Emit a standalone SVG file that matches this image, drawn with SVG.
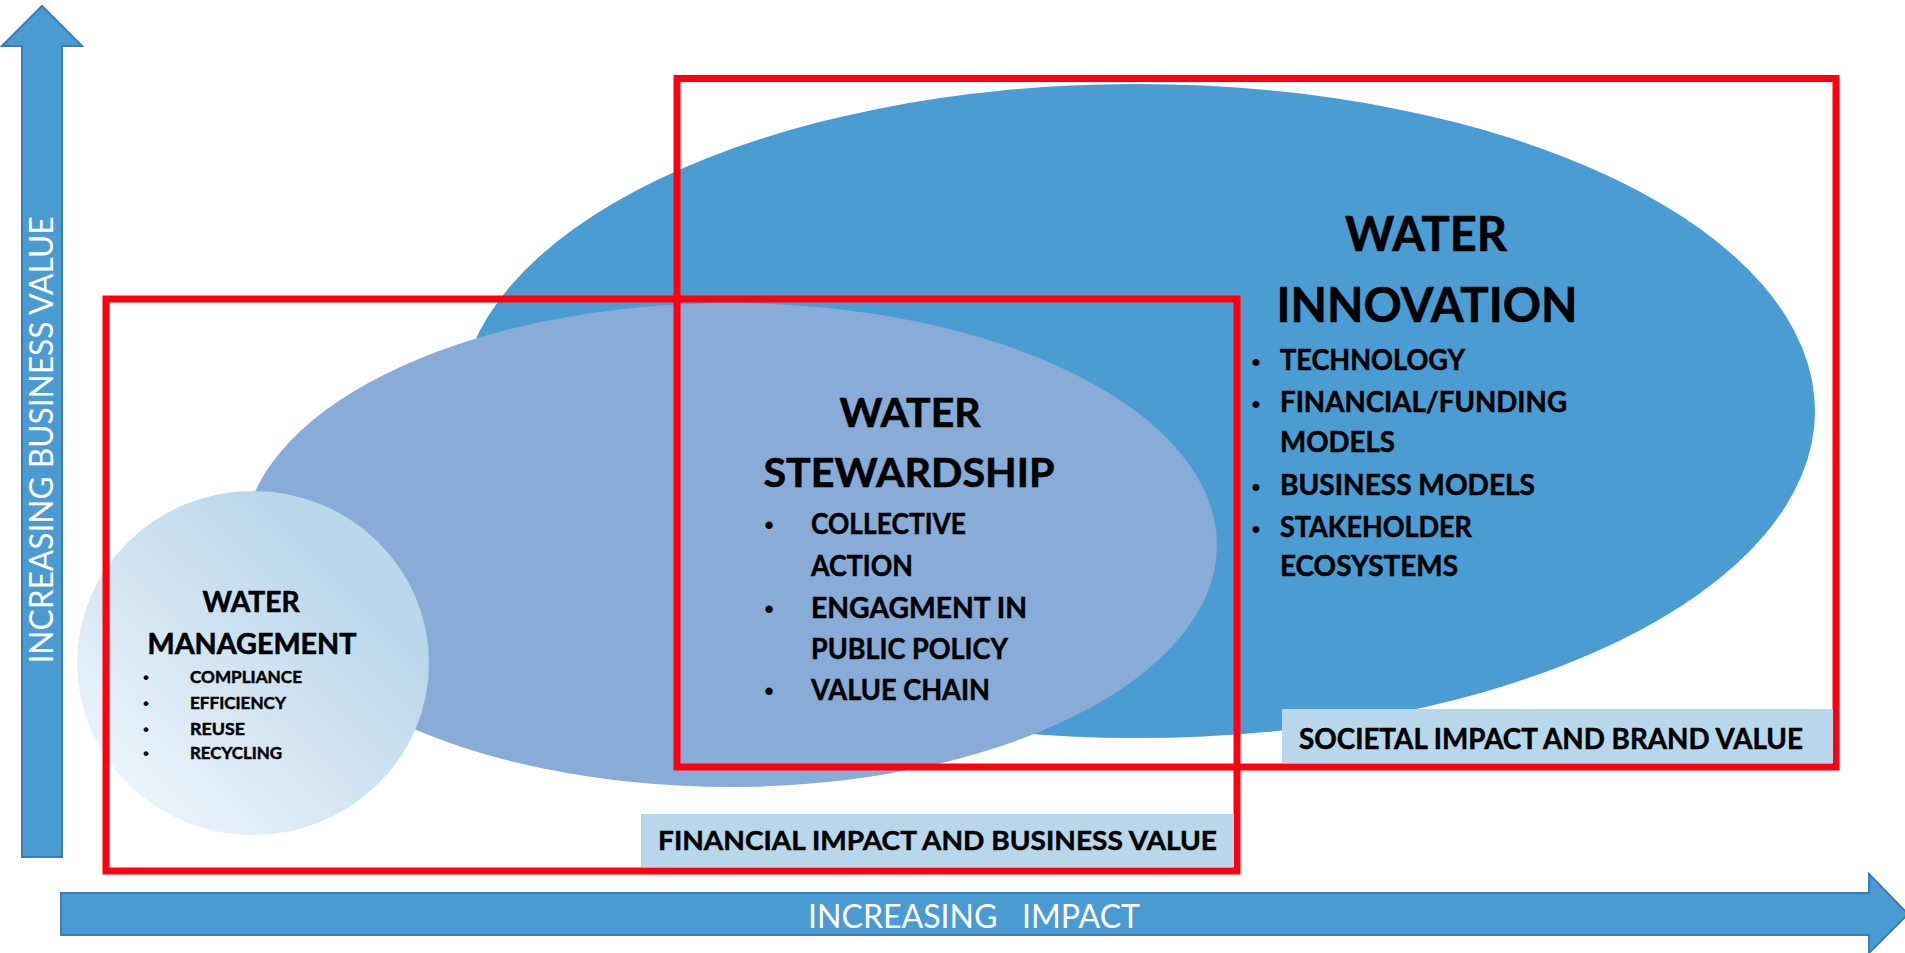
<svg xmlns="http://www.w3.org/2000/svg" width="1905" height="953" viewBox="0 0 1905 953">
  <style>
    .axis { fill: #4A9BD1; stroke: #3B7CB1; stroke-width: 2; }
    .axis-label { font-family: Lato, "Liberation Sans", sans-serif; font-weight: 400; fill: #FFFFFF; }
    .frame { fill: none; stroke: #FF0010; stroke-width: 7; }
    .tag { fill: #B8D7EB; }
    .head { font-family: Lato, "Liberation Sans", sans-serif; font-weight: 700; fill: #000000; stroke: #000000; stroke-width: 0.6; text-anchor: middle; }
    .item { font-family: Lato, "Liberation Sans", sans-serif; font-weight: 700; fill: #000000; stroke: #000000; stroke-width: 0.5; }
    .dot { font-family: "Liberation Sans", sans-serif; font-weight: 700; fill: #000000; text-anchor: middle; }
  </style>
  <defs>
    <linearGradient id="mgmtFill" x1="0.1" y1="0.9" x2="0.75" y2="0.25">
      <stop offset="0" stop-color="#EEF5FB"/>
      <stop offset="1" stop-color="#BBD7EC"/>
    </linearGradient>
  </defs>

  <rect width="1905" height="953" fill="#FFFFFF"/>

  <!-- axes -->
  <g id="axis-business-value">
    <polygon class="axis" points="22,857 22,46 2,46 42,6 82,46 62,46 62,857"/>
    <text class="axis-label" font-size="33" text-anchor="middle" transform="translate(53,440) rotate(-90)" textLength="447" lengthAdjust="spacingAndGlyphs">INCREASING BUSINESS VALUE</text>
  </g>
  <g id="axis-impact">
    <polygon class="axis" points="61,893 1869,893 1869,874 1908,914 1869,953 1869,935 61,935"/>
    <text class="axis-label" font-size="33" x="808" y="928" xml:space="preserve" textLength="332" lengthAdjust="spacingAndGlyphs">INCREASING   IMPACT</text>
  </g>

  <!-- water innovation -->
  <g id="water-innovation">
    <ellipse cx="1137" cy="411" rx="678" ry="327" fill="#4B9CD2"/>
  </g>

  <!-- water stewardship -->
  <g id="water-stewardship">
    <ellipse cx="730" cy="545" rx="487" ry="242" fill="#88ABD8"/>
  </g>

  <!-- water management -->
  <g id="water-management">
    <ellipse cx="253" cy="663" rx="176" ry="172" fill="url(#mgmtFill)"/>
    <text class="head" font-size="28" x="251" y="612" textLength="97" lengthAdjust="spacingAndGlyphs">WATER</text>
    <text class="head" font-size="28" x="252" y="654" textLength="209" lengthAdjust="spacingAndGlyphs">MANAGEMENT</text>
    <text class="dot" font-size="17" x="146" y="683">•</text>
    <text class="dot" font-size="17" x="146" y="709">•</text>
    <text class="dot" font-size="17" x="146" y="735">•</text>
    <text class="dot" font-size="17" x="146" y="759">•</text>
    <text class="item" font-size="17.5" x="190" y="683" textLength="112" lengthAdjust="spacingAndGlyphs">COMPLIANCE</text>
    <text class="item" font-size="17.5" x="190" y="709" textLength="96" lengthAdjust="spacingAndGlyphs">EFFICIENCY</text>
    <text class="item" font-size="17.5" x="190" y="735" textLength="55" lengthAdjust="spacingAndGlyphs">REUSE</text>
    <text class="item" font-size="17.5" x="190" y="759" textLength="92" lengthAdjust="spacingAndGlyphs">RECYCLING</text>
  </g>

  <!-- scope frames -->
  <g id="frame-societal">
    <rect class="frame" x="677" y="78.5" width="1159" height="688.5"/>
  </g>
  <g id="frame-financial">
    <rect class="frame" x="106" y="299" width="1131" height="572"/>
  </g>

  <!-- stewardship text -->
  <g id="water-stewardship-text">
    <text class="head" font-size="40" x="910" y="427" textLength="141" lengthAdjust="spacingAndGlyphs">WATER</text>
    <text class="head" font-size="40" x="909" y="487" textLength="291" lengthAdjust="spacingAndGlyphs">STEWARDSHIP</text>
    <text class="dot" font-size="26" x="769" y="534">•</text>
    <text class="dot" font-size="26" x="769" y="618">•</text>
    <text class="dot" font-size="26" x="769" y="700">•</text>
    <text class="item" font-size="29" x="811" y="534" textLength="155" lengthAdjust="spacingAndGlyphs">COLLECTIVE</text>
    <text class="item" font-size="29" x="811" y="576" textLength="102" lengthAdjust="spacingAndGlyphs">ACTION</text>
    <text class="item" font-size="29" x="811" y="618" textLength="216" lengthAdjust="spacingAndGlyphs">ENGAGMENT IN</text>
    <text class="item" font-size="29" x="811" y="659" textLength="197" lengthAdjust="spacingAndGlyphs">PUBLIC POLICY</text>
    <text class="item" font-size="29" x="811" y="700" textLength="179" lengthAdjust="spacingAndGlyphs">VALUE CHAIN</text>
  </g>

  <!-- innovation text -->
  <g id="water-innovation-text">
    <text class="head" font-size="48" x="1426" y="251" textLength="162" lengthAdjust="spacingAndGlyphs">WATER</text>
    <text class="head" font-size="47" x="1427" y="322" textLength="301" lengthAdjust="spacingAndGlyphs">INNOVATION</text>
    <text class="dot" font-size="24" x="1256" y="370">•</text>
    <text class="dot" font-size="24" x="1256" y="412">•</text>
    <text class="dot" font-size="24" x="1256" y="495">•</text>
    <text class="dot" font-size="24" x="1256" y="537">•</text>
    <text class="item" font-size="28" x="1280" y="370" textLength="185" lengthAdjust="spacingAndGlyphs">TECHNOLOGY</text>
    <text class="item" font-size="28" x="1280" y="412" textLength="287" lengthAdjust="spacingAndGlyphs">FINANCIAL/FUNDING</text>
    <text class="item" font-size="28" x="1280" y="452" textLength="115" lengthAdjust="spacingAndGlyphs">MODELS</text>
    <text class="item" font-size="28" x="1280" y="495" textLength="255" lengthAdjust="spacingAndGlyphs">BUSINESS MODELS</text>
    <text class="item" font-size="28" x="1280" y="537" textLength="192" lengthAdjust="spacingAndGlyphs">STAKEHOLDER</text>
    <text class="item" font-size="28" x="1280" y="576" textLength="178" lengthAdjust="spacingAndGlyphs">ECOSYSTEMS</text>
  </g>

  <!-- value tags -->
  <g id="tag-societal">
    <rect class="tag" x="1282" y="709" width="551" height="54"/>
    <text class="item" font-size="28" x="1299" y="749" textLength="504" lengthAdjust="spacingAndGlyphs">SOCIETAL IMPACT AND BRAND VALUE</text>
  </g>
  <g id="tag-financial">
    <rect class="tag" x="641" y="814" width="593" height="53"/>
    <text class="item" font-size="27" x="658" y="850" textLength="559" lengthAdjust="spacingAndGlyphs">FINANCIAL IMPACT AND BUSINESS VALUE</text>
  </g>

  <!-- no connectors in this chart -->
  <g id="connectors"/>
</svg>
